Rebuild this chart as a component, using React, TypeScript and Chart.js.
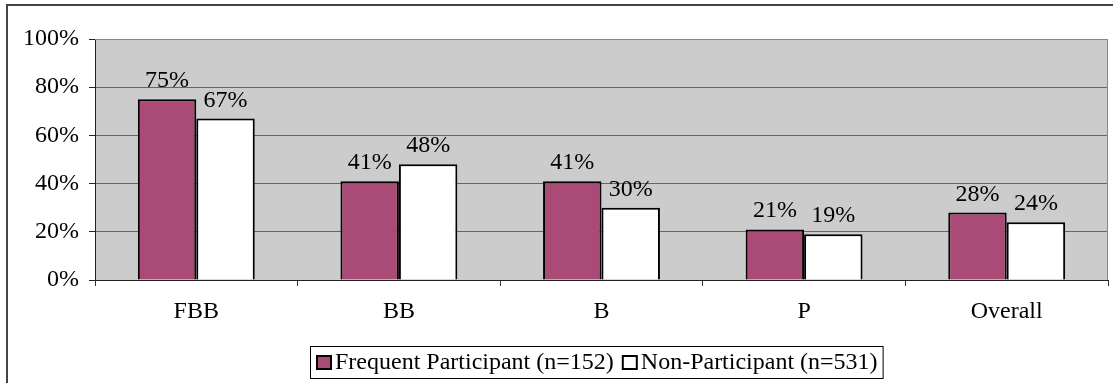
import React, { useEffect, useRef } from "react";
import { Chart, registerables } from "chart.js";

Chart.register(...registerables);

const categories = ["FBB", "BB", "B", "P", "Overall"];
const frequentValues = [75, 41, 41, 21, 28];
const nonParticipantValues = [67, 48, 30, 19, 24];
const seriesLabels = ["Frequent Participant (n=152)", "Non-Participant (n=531)"];
const seriesColors = ["#AA4A76", "#FFFFFF"];
const yTicks = [0, 20, 40, 60, 80, 100];

const FONT = "'Liberation Serif', 'Times New Roman', serif";
const FONT_SIZE = 24;

const frameAndLabels = {
  id: "frameAndLabels",
  beforeDraw(chart: any) {
    const { ctx, chartArea } = chart;
    ctx.save();
    ctx.fillStyle = "#FFFFFF";
    ctx.fillRect(0, 0, chart.width, chart.height);
    ctx.fillStyle = "#CCCCCC";
    ctx.fillRect(chartArea.left, chartArea.top, chartArea.right - chartArea.left, chartArea.bottom - chartArea.top);
    ctx.restore();
  },
  afterDraw(chart: any) {
    const { ctx, chartArea } = chart;
    ctx.save();
    // plot area outline (top and right)
    ctx.strokeStyle = "#888888";
    ctx.lineWidth = 1;
    ctx.beginPath();
    ctx.moveTo(chartArea.left, chartArea.top + 0.5);
    ctx.lineTo(chartArea.right - 0.5, chartArea.top + 0.5);
    ctx.lineTo(chartArea.right - 0.5, chartArea.bottom);
    ctx.stroke();

    // outer chart frame
    ctx.strokeStyle = "#444444";
    ctx.lineWidth = 2;
    ctx.beginPath();
    ctx.moveTo(7, chart.height);
    ctx.lineTo(7, 5);
    ctx.lineTo(chart.width, 5);
    ctx.stroke();

    // value labels above bars
    ctx.fillStyle = "#000000";
    ctx.font = `${FONT_SIZE}px ${FONT}`;
    ctx.textAlign = "center";
    ctx.textBaseline = "alphabetic";
    chart.data.datasets.forEach((ds: any, di: number) => {
      const meta = chart.getDatasetMeta(di);
      meta.data.forEach((bar: any, i: number) => {
        ctx.fillText(`${ds.data[i]}%`, bar.x, bar.y - 12);
      });
    });

    // legend box
    ctx.font = `${FONT_SIZE}px ${FONT}`;
    ctx.textAlign = "left";
    const boxLeft = 310;
    const boxTop = 346;
    const boxBottom = 378;
    let x = boxLeft + 7;
    const baseline = 369;
    seriesLabels.forEach((label, i) => {
      ctx.fillStyle = seriesColors[i];
      ctx.fillRect(x, 356, 14, 13);
      ctx.strokeStyle = "#000000";
      ctx.lineWidth = 2;
      ctx.strokeRect(x, 356, 14, 13);
      ctx.fillStyle = "#000000";
      ctx.fillText(label, x + 18, baseline);
      x += 18 + ctx.measureText(label).width + 9;
    });
    const boxRight = x - 4;
    ctx.strokeStyle = "#000000";
    ctx.lineWidth = 1;
    ctx.strokeRect(boxLeft + 0.5, boxTop + 0.5, boxRight - boxLeft, boxBottom - boxTop);
    ctx.restore();
  },
};

export default function App() {
  const canvasRef = useRef<HTMLCanvasElement | null>(null);

  useEffect(() => {
    if (!canvasRef.current) return;
    const chart = new Chart(canvasRef.current, {
      type: "bar",
      data: {
        labels: categories,
        datasets: [
          {
            label: seriesLabels[0],
            data: frequentValues,
            backgroundColor: seriesColors[0],
            borderColor: "#000000",
            borderWidth: 2,
            categoryPercentage: 0.577,
            barPercentage: 1,
          },
          {
            label: seriesLabels[1],
            data: nonParticipantValues,
            backgroundColor: seriesColors[1],
            borderColor: "#000000",
            borderWidth: 2,
            categoryPercentage: 0.577,
            barPercentage: 1,
          },
        ],
      },
      options: {
        animation: false,
        responsive: false,
        maintainAspectRatio: false,
        layout: { padding: { left: 0, right: 5, top: 39, bottom: 0 } },
        plugins: {
          legend: { display: false },
          tooltip: { enabled: false },
        },
        scales: {
          x: {
            offset: true,
            grid: {
              display: true,
              drawOnChartArea: false,
              drawTicks: true,
              tickLength: 6,
              offset: true,
              color: "#333333",
            },
            border: { display: true, color: "#222222", width: 1 },
            ticks: {
              color: "#000000",
              padding: 11,
              font: { family: FONT, size: FONT_SIZE },
            },
            afterFit(scale: any) {
              scale.height = 103;
            },
          },
          y: {
            min: 0,
            max: 100,
            afterBuildTicks(scale: any) {
              scale.ticks = yTicks.map((v) => ({ value: v }));
            },
            grid: {
              color: "#666666",
              lineWidth: 1,
              drawTicks: true,
              tickLength: 6,
              tickColor: "#222222",
            },
            border: { display: true, color: "#222222", width: 1 },
            ticks: {
              color: "#000000",
              padding: 10,
              font: { family: FONT, size: FONT_SIZE },
              callback: (v: any) => `${v}%`,
            },
            afterFit(scale: any) {
              scale.width = 95;
            },
          },
        },
      },
      plugins: [frameAndLabels],
    });
    return () => chart.destroy();
  }, []);

  return (
    <div style={{ position: "fixed", left: 0, top: 0, width: 1113, height: 383 }}>
      <canvas ref={canvasRef} width={1113} height={383} style={{ width: 1113, height: 383, display: "block" }} />
    </div>
  );
}
